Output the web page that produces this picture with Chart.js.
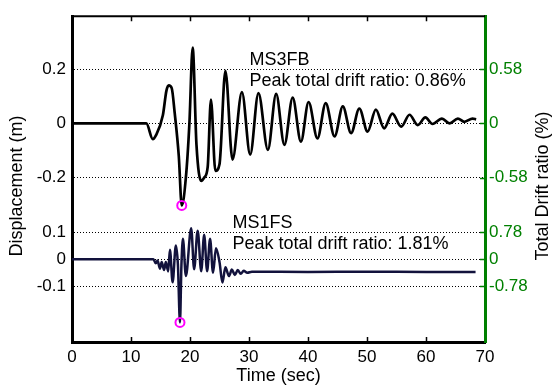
<!DOCTYPE html>
<html>
<head>
<meta charset="utf-8">
<script src="https://cdn.jsdelivr.net/npm/chart.js@4.4.1/dist/chart.umd.min.js"></script>
<style>
  html, body { margin: 0; padding: 0; background: #fff; }
  #wrap { width: 552px; height: 388px; }
</style>
</head>
<body>
<div id="wrap"><canvas id="c" width="552" height="388"></canvas></div>
<script>
// MS3FB (upper trace): time (sec) and displacement (m)
const topTime = [0, 12.6, 13.7, 14.2, 15.4, 16.0, 16.4, 16.9, 17.4, 18.1, 18.6, 19.3, 19.9, 20.45,
  21.1, 21.9, 22.4, 23.0, 23.55, 24.3, 25.0, 26.0, 27.2, 28.8, 30.2, 31.6, 33.2, 34.6, 36.0, 37.4,
  38.8, 40.1, 41.6, 43.0, 44.5, 45.9, 47.3, 48.7, 50.1, 51.5, 52.9, 54.3, 55.8, 57.2, 58.6, 59.9,
  61.1, 62.7, 64.0, 65.4, 66.5, 67.9, 68.5];
const topDisp = [0, 0, -0.058, -0.045, 0.03, 0.12, 0.14, 0.13, 0.04, -0.12, -0.302, -0.2, 0.0, 0.279,
  -0.08, -0.212, -0.2, -0.16, 0.088, -0.175, -0.15, 0.194, -0.133, 0.115, -0.115, 0.112, -0.097, 0.109, -0.079, 0.095,
  -0.067, 0.079, -0.055, 0.075, -0.048, 0.063, -0.036, 0.055, -0.03, 0.051, -0.018, 0.036, -0.012, 0.032, -0.006, 0.022,
  -0.002, 0.018, 0.0, 0.018, 0.006, 0.018, 0.015];

// MS1FS (lower trace)
const botTime = [0, 13.8, 14.2, 14.5, 14.9, 15.2, 15.6, 15.9, 16.3, 16.6, 17.05, 17.6, 17.95, 18.3, 18.55,
  18.8, 19.3, 20.2, 20.7, 21.3, 21.9, 22.4, 22.9, 23.4, 23.9, 24.4, 25.0, 25.5, 26.0, 26.6, 27.1, 27.6,
  28.1, 28.6, 29.1, 29.7, 30.5, 40, 50, 60, 68.4];
const botDisp = [0, 0, -0.015, -0.005, -0.035, -0.01, -0.04, -0.01, -0.045, 0.035, -0.085, 0.05, -0.02, -0.233, -0.02,
  0.075, -0.062, 0.114, -0.037, 0.105, -0.044, 0.09, -0.044, 0.075, -0.05, 0.04, -0.01, -0.086, -0.03, -0.062, -0.038, -0.058,
  -0.04, -0.054, -0.043, -0.05, -0.046, -0.047, -0.046, -0.047, -0.047];

// peak markers: [MS3FB, MS1FS]
const peakTime = [18.6, 18.3];
const peakDisp = [-0.302, -0.233];

const xTicks = [0, 10, 20, 30, 40, 50, 60, 70];
const topTickVals = [-0.2, 0, 0.2];
const topTickLabels = ['-0.2', '0', '0.2'];
const topDriftLabels = ['-0.58', '0', '0.58'];
const botTickVals = [-0.1, 0, 0.1];
const botTickLabels = ['-0.1', '0', '0.1'];
const botDriftLabels = ['-0.78', '0', '0.78'];

const noteTop = ['MS3FB', 'Peak total drift ratio: 0.86%'];
const noteBot = ['MS1FS', 'Peak total drift ratio: 1.81%'];

// the upper record is raised by this much on the shared displacement axis
const TOP_SHIFT = 0.5;

const GREEN = '#008000';
const FONT = 'Liberation Sans, Arial, Helvetica, sans-serif';

const tickPos = botTickVals.concat(topTickVals.map(v => v + TOP_SHIFT));
const leftLabels = botTickLabels.concat(topTickLabels);
const rightLabels = botDriftLabels.concat(topDriftLabels);

const topPoints = topTime.map((t, i) => ({ x: t, y: topDisp[i] + TOP_SHIFT }));
const botPoints = botTime.map((t, i) => ({ x: t, y: botDisp[i] }));
const peakPoints = [
  { x: peakTime[0], y: peakDisp[0] + TOP_SHIFT },
  { x: peakTime[1], y: peakDisp[1] },
];

const frame = {
  id: 'frame',
  afterDraw(chart) {
    const { ctx, chartArea: a, scales } = chart;
    const x = scales.x, y = scales.y;
    ctx.save();
    // top border
    ctx.strokeStyle = '#000';
    ctx.lineWidth = 2;
    ctx.beginPath();
    ctx.moveTo(a.left - 1, a.top);
    ctx.lineTo(a.right, a.top);
    ctx.stroke();
    // inward ticks on time axis
    ctx.lineWidth = 1.5;
    xTicks.slice(1, -1).forEach(v => {
      const px = Math.round(x.getPixelForValue(v)) + 0.5;
      ctx.beginPath();
      ctx.moveTo(px, a.bottom); ctx.lineTo(px, a.bottom - 5);
      ctx.moveTo(px, a.top); ctx.lineTo(px, a.top + 5);
      ctx.stroke();
    });
    // inward stubs on the drift axis
    ctx.strokeStyle = GREEN;
    tickPos.forEach(v => {
      const py = Math.round(y.getPixelForValue(v)) + 0.5;
      ctx.beginPath();
      ctx.moveTo(a.right, py); ctx.lineTo(a.right - 5, py);
      ctx.stroke();
    });
    // axis titles (both read bottom to top)
    const midY = 186;
    ctx.font = '18px ' + FONT;
    ctx.textAlign = 'center';
    ctx.textBaseline = 'middle';
    ctx.fillStyle = '#000';
    ctx.translate(17, midY);
    ctx.rotate(-Math.PI / 2);
    ctx.fillText('Displacement (m)', 0, 0);
    ctx.setTransform(1, 0, 0, 1, 0, 0);
    ctx.translate(543, midY);
    ctx.rotate(-Math.PI / 2);
    ctx.fillText('Total Drift ratio (%)', 0, 0);
    ctx.setTransform(1, 0, 0, 1, 0, 0);
    // notes
    ctx.textAlign = 'left';
    ctx.textBaseline = 'alphabetic';
    const put = (lines, t, v) => {
      const px = x.getPixelForValue(t), py = y.getPixelForValue(v);
      lines.forEach((s, i) => ctx.fillText(s, px, py + i * 21));
    };
    put(noteTop, 30.1, 0.714);
    put(noteBot, 27.2, 0.116);
    ctx.restore();
  }
};

new Chart(document.getElementById('c'), {
  type: 'line',
  data: {
    datasets: [
      {
        type: 'scatter',
        data: peakPoints,
        pointStyle: 'circle',
        pointRadius: 4.5,
        pointBorderWidth: 2,
        pointBorderColor: '#ff00ff',
        pointBackgroundColor: 'rgba(0,0,0,0)',
        showLine: false,
        order: 0,
      },
      {
        data: topPoints,
        borderColor: '#000',
        borderWidth: 2.7,
        pointRadius: 0,
        cubicInterpolationMode: 'monotone',
        fill: false,
        order: 1,
      },
      {
        data: botPoints,
        borderColor: '#12123c',
        borderWidth: 2.5,
        pointRadius: 0,
        cubicInterpolationMode: 'monotone',
        fill: false,
        order: 2,
      },
    ],
  },
  options: {
    responsive: false,
    animation: false,
    devicePixelRatio: 1,
    layout: { padding: { top: 11, right: 0, bottom: 0, left: 0 } },
    plugins: { legend: { display: false }, tooltip: { enabled: false } },
    scales: {
      x: {
        type: 'linear',
        min: 0, max: 70,
        afterBuildTicks: s => { s.ticks = xTicks.map(v => ({ value: v })); },
        afterFit: s => { s.height = 46; },
        grid: { display: false, drawTicks: false, tickLength: 0 },
        border: { display: true, color: '#000', width: 3 },
        ticks: { color: '#000', font: { family: FONT, size: 17 }, padding: 5, maxRotation: 0, autoSkip: false },
        title: { display: true, text: 'Time (sec)', color: '#000', font: { family: FONT, size: 18 }, padding: { top: 0, bottom: 1 } },
      },
      y: {
        type: 'linear',
        position: 'left',
        min: -0.305, max: 0.895,
        afterBuildTicks: s => { s.ticks = tickPos.map(v => ({ value: v })); },
        afterFit: s => { s.width = 72; },
        grid: { color: '#000', lineWidth: 1, drawTicks: false },
        border: { display: true, color: '#000', width: 3, dash: [1, 2] },
        ticks: { color: '#000', font: { family: FONT, size: 17 }, padding: 6, autoSkip: false,
          callback: (v, i) => leftLabels[i] },
      },
      yR: {
        type: 'linear',
        position: 'right',
        min: -0.305, max: 0.895,
        afterBuildTicks: s => { s.ticks = tickPos.map(v => ({ value: v })); },
        afterFit: s => { s.width = 67; },
        grid: { display: false, drawTicks: false, tickLength: 0 },
        border: { display: true, color: GREEN, width: 3 },
        ticks: { color: GREEN, font: { family: FONT, size: 17 }, padding: 4, autoSkip: false,
          callback: (v, i) => rightLabels[i] },
      },
    },
  },
  plugins: [frame],
});
</script>
</body>
</html>
